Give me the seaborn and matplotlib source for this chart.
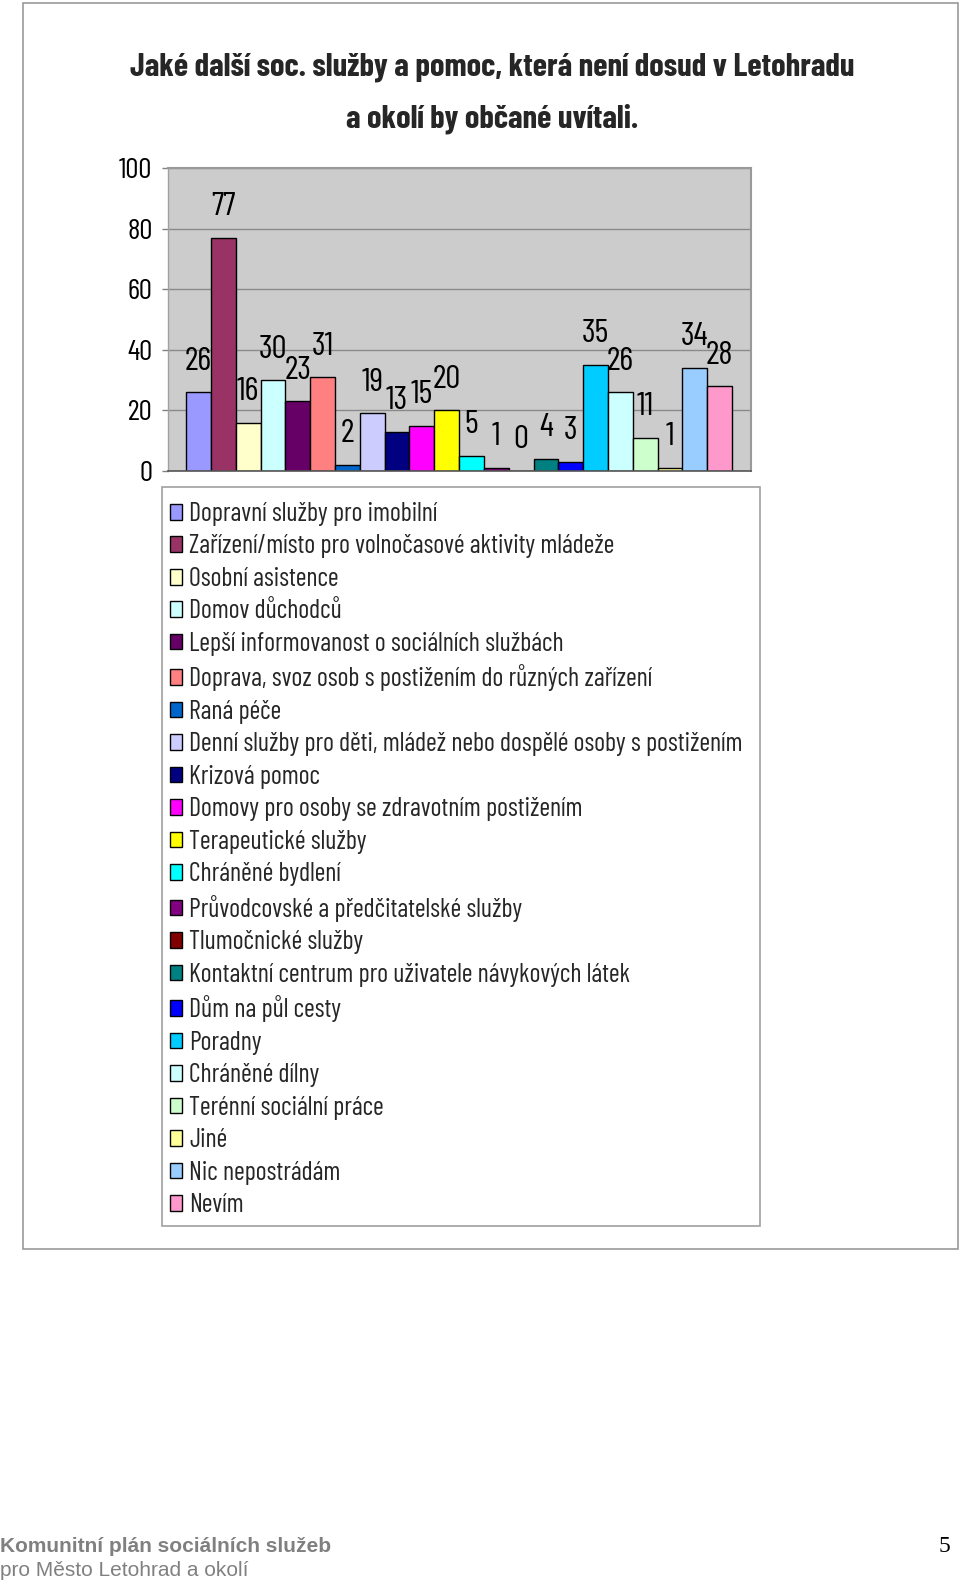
import matplotlib
matplotlib.use("Agg")
import matplotlib.pyplot as plt
import matplotlib.patches as mpatches
import seaborn as sns
import pandas as pd

categories = [
    "Dopravní služby pro imobilní",
    "Zařízení/místo pro volnočasové aktivity mládeže",
    "Osobní asistence",
    "Domov důchodců",
    "Lepší informovanost o sociálních službách",
    "Doprava, svoz osob s postižením do různých zařízení",
    "Raná péče",
    "Denní služby pro děti, mládež nebo dospělé osoby s postižením",
    "Krizová pomoc",
    "Domovy pro osoby se zdravotním postižením",
    "Terapeutické služby",
    "Chráněné bydlení",
    "Průvodcovské a předčitatelské služby",
    "Tlumočnické služby",
    "Kontaktní centrum pro uživatele návykových látek",
    "Dům na půl cesty",
    "Poradny",
    "Chráněné dílny",
    "Terénní sociální práce",
    "Jiné",
    "Nic nepostrádám",
    "Nevím",
]
values = [26, 77, 16, 30, 23, 31, 2, 19, 13, 15, 20, 5, 1, 0, 4, 3, 35, 26, 11, 1, 34, 28]
colors = [
    "#9999FF", "#993366", "#FFFFCC", "#CCFFFF", "#660066", "#FF8080",
    "#0066CC", "#CCCCFF", "#000080", "#FF00FF", "#FFFF00", "#00FFFF",
    "#800080", "#800000", "#008080", "#0000FF", "#00CCFF", "#CCFFFF",
    "#CCFFCC", "#FFFF99", "#99CCFF", "#FF99CC",
]
yticks = [0, 20, 40, 60, 80, 100]
title1 = "Jaké další soc. služby a pomoc, která není dosud v Letohradu"
title2 = "a okolí by občané uvítali."
footer1 = "Komunitní plán sociálních služeb"
footer2 = "pro Město Letohrad a okolí"
page_no = "5"

sns.set_theme(style="white")
NARROW = ["Barlow Condensed", "Roboto Condensed", "Liberation Sans", "DejaVu Sans"]
plt.rcParams["font.family"] = NARROW

W, H = 960, 1583
fig = plt.figure(figsize=(W / 100, H / 100), dpi=100)
fig.patch.set_facecolor("white")

# outer frame
fig.add_artist(mpatches.Rectangle((23 / W, 1 - 1249 / H), (958 - 23) / W, (1249 - 3) / H,
                                  transform=fig.transFigure, fill=False,
                                  edgecolor="#9a9a9a", linewidth=1.2))

ax = fig.add_axes([168.3 / W, 1 - 471 / H, (750.7 - 168.3) / W, (471 - 168) / H])
ax.set_facecolor("#CCCCCC")

df = pd.DataFrame({"skupina": [""] * len(categories), "kategorie": categories, "hodnota": values})
sns.barplot(data=df, x="skupina", y="hodnota", hue="kategorie", hue_order=categories,
            palette=colors, saturation=1, width=0.8, edgecolor="black", linewidth=1.0,
            errorbar=None, legend=False, ax=ax)

ax.set_ylim(0, 100)
ax.set_xlim(-0.4 - 0.0262, 0.4 + 0.0274)
ax.set_yticks(yticks)
ax.set_yticklabels([str(t) for t in yticks], fontsize=21)
ax.set_xticks([])
ax.set_xlabel("")
ax.set_ylabel("")
ax.yaxis.grid(True, color="#8a8a8a", linewidth=1.0)
ax.set_axisbelow(True)
ax.tick_params(axis="y", which="both", left=True, length=4.3, width=1, color="#808080",
               pad=7, labelcolor="black")
for s in ["top", "right"]:
    ax.spines[s].set_color("#999999")
    ax.spines[s].set_linewidth(1.5)
ax.spines["left"].set_color("#a0a0a0")
ax.spines["left"].set_linewidth(1.0)
ax.spines["bottom"].set_color("#555555")
ax.spines["bottom"].set_linewidth(1.2)

for cont in ax.containers:
    for p in cont:
        h = p.get_height()
        ax.annotate(f"{int(round(h))}", (p.get_x() + p.get_width() / 2, h),
                    xytext=(0, 22), textcoords="offset points",
                    ha="center", va="center", fontsize=24, color="black",
                    annotation_clip=False)

fig.text(492 / W, 1 - 67 / H, title1, ha="center", va="center", fontsize=23.5,
         fontweight="bold")
fig.text(492 / W, 1 - 119 / H, title2, ha="center", va="center", fontsize=23.5,
         fontweight="bold")

# legend frame
fig.add_artist(mpatches.Rectangle((162 / W, 1 - 1226 / H), (760 - 162) / W, (1226 - 487) / H,
                                  transform=fig.transFigure, facecolor="white",
                                  edgecolor="#a0a0a0", linewidth=1.2, zorder=1))
handles = [mpatches.Patch(facecolor=c, edgecolor="black", linewidth=1.0) for c in colors]
leg = fig.legend(handles, categories, loc="upper left",
                 bbox_to_anchor=(170 / W, 1 - 502 / H), fontsize=18.8, frameon=False,
                 handlelength=0.46, handleheight=0.54, handletextpad=0.27,
                 labelspacing=0.325, borderpad=0, borderaxespad=0)
leg.set_zorder(2)

fig.text(0, 1 - 1547 / H, footer1, ha="left", va="center", fontsize=15,
         fontweight="bold", color="#808080", family=["Liberation Sans", "DejaVu Sans"])
fig.text(0, 1 - 1570 / H, footer2, ha="left", va="center", fontsize=15,
         color="#808080", family=["Liberation Sans", "DejaVu Sans"])
fig.text(950 / W, 1 - 1546 / H, page_no, ha="right", va="center", fontsize=17,
         color="black", family=["Liberation Serif", "DejaVu Serif"])

fig.savefig("out.png", dpi=100, facecolor="white")
